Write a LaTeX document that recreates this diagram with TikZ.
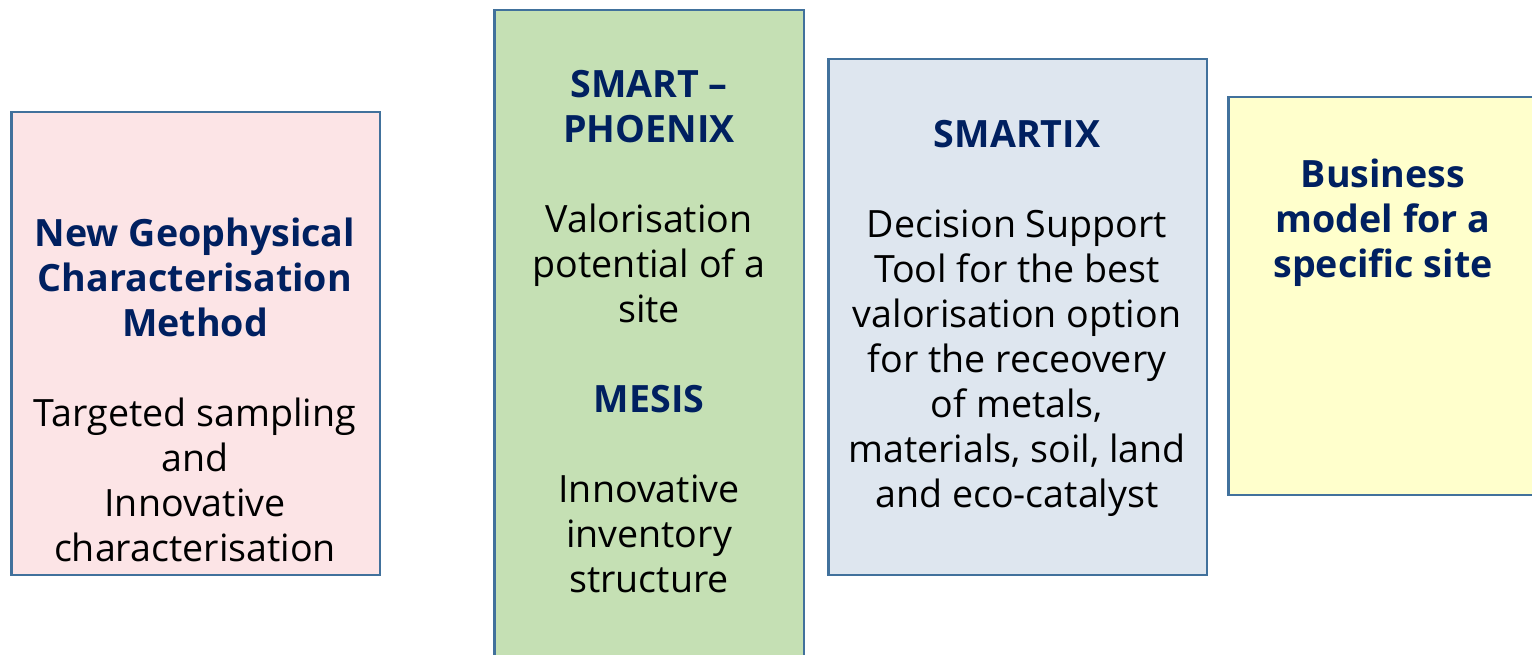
\documentclass[tikz,border=0pt]{standalone}
\usepackage{fontspec}
\setmainfont{Open Sans}
\usetikzlibrary{positioning}
\definecolor{edgeblue}{RGB}{65,113,156}
\definecolor{titlenavy}{RGB}{0,32,96}
\definecolor{pinkfill}{RGB}{252,228,230}
\definecolor{greenfill}{RGB}{197,224,180}
\definecolor{greyfill}{RGB}{222,230,239}
\definecolor{yellowfill}{RGB}{255,255,204}
\tikzset{panel/.style={draw=edgeblue,line width=2.5pt,rectangle,inner sep=0pt,outer sep=0pt}}
\tikzset{paneltext/.style={align=center,inner sep=0pt,font=\fontsize{37.6}{45}\selectfont}}
\newcommand{\hd}[1]{{\bfseries\color{titlenavy}#1}}

\begin{document}
\begin{tikzpicture}[x=1pt,y=-1pt]
    \useasboundingbox (0,0) rectangle (1532,655);
    \clip (0,0) rectangle (1532,655);
    % the four panels
    \node[panel,fill=pinkfill,minimum width=368.5pt,minimum height=462.5pt] (geo) at (195.5,343.5) {};
    \node[panel,fill=greenfill,minimum width=309.5pt,minimum height=688.5pt] (phoenix) at (649,354.5) {};
    \node[panel,fill=greyfill,minimum width=378.5pt,minimum height=515.5pt] (smartix) at (1017.5,317) {};
    \node[panel,fill=yellowfill,minimum width=330.5pt,minimum height=397.5pt] (business) at (1393.5,296) {};
    % texts
    \node[paneltext] (geotext) at (195,389.5) {\hd{New Geophysical}\\\hd{Characterisation}\\\hd{Method}\\[45pt]
        Targeted sampling\\and\\Innovative\\characterisation};
    \node[paneltext] (phoenixtext) at (649,332) {\hd{SMART --}\\\hd{PHOENIX}\\[45pt]
        Valorisation\\potential of a\\site\\[45pt]\hd{MESIS}\\[45pt]Innovative\\inventory\\structure};
    \node[paneltext] (smartixtext) at (1017,318) {\hd{SMARTIX}\\[45pt]
        Decision Support\\Tool for the best\\valorisation option\\for the receovery\\of metals,\\materials, soil, land\\and eco-catalyst};
    \node[paneltext] (businesstext) at (1383,222.5) {\hd{Business}\\\hd{model for a}\\\hd{specific site}};
\end{tikzpicture}
\end{document}
